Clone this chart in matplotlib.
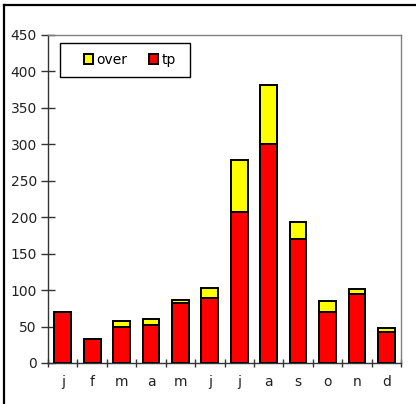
import matplotlib
matplotlib.use("Agg")
import matplotlib.pyplot as plt
from matplotlib.lines import Line2D
from matplotlib.patches import Rectangle
import numpy as np

months = ["j", "f", "m", "a", "m", "j", "j", "a", "s", "o", "n", "d"]
tp = [70, 33, 50, 52, 82, 89, 207, 300, 170, 70, 94, 43]
over = [0, 0, 7, 8, 5, 14, 71, 82, 24, 15, 7, 5]
yticks = [0, 50, 100, 150, 200, 250, 300, 350, 400, 450]

plt.rcParams['font.family'] = ['DejaVu Sans']
fig = plt.figure(figsize=(4.16, 4.04), dpi=100)
ax = fig.add_axes([0.1154, 0.1015, 0.8486, 0.812])

x = np.arange(len(months))
w = 0.57
ax.bar(x, tp, width=w, color='#ff0000', edgecolor='black', linewidth=1.4, label='tp', zorder=3)
ax.bar(x, over, width=w, bottom=tp, color='#ffff00', edgecolor='black', linewidth=1.4, label='over', zorder=3)

ax.set_xlim(-0.5, 11.5)
ax.set_ylim(0, 450)
ax.set_yticks(yticks)
ax.set_yticklabels([str(v) for v in yticks])
ax.set_xticks(x)
ax.set_xticklabels(months)
ax.set_xticks(np.arange(-0.5, 12, 1), minor=True)
ax.tick_params(axis='x', which='major', length=0, pad=9, labelsize=10, colors='#222222')
ax.tick_params(axis='x', which='minor', length=6, direction='inout', width=1, color='#333333')
ax.tick_params(axis='y', which='major', length=10, direction='inout', width=1, pad=3, labelsize=10, colors='#222222', color='#333333')

ax.spines['left'].set_color('#333333')
ax.spines['bottom'].set_color('#333333')
ax.spines['top'].set_color('#808080')
ax.spines['right'].set_color('#808080')
for s in ax.spines.values():
    s.set_linewidth(1.0)

# legend frame drawn separately
ax.add_patch(Rectangle((0.034, 0.872), 0.368, 0.104, transform=ax.transAxes,
                       facecolor='white', edgecolor='black', linewidth=1.0, zorder=4))
handles, labels = ax.get_legend_handles_labels()
leg = ax.legend(handles[::-1], labels[::-1], ncol=2, loc='center left',
                bbox_to_anchor=(0.102, 0.924), frameon=False,
                handlelength=0.65, handleheight=0.65,
                handletextpad=0.25, columnspacing=1.55, fontsize=10,
                borderpad=0, borderaxespad=0)
leg.set_zorder(5)

# figure border lines (top and left)
fig.add_artist(Line2D([0.0096, 1.0], [0.9876, 0.9876], transform=fig.transFigure, color='black', linewidth=1.6))
fig.add_artist(Line2D([0.0096, 0.0096], [0.0, 0.9876], transform=fig.transFigure, color='black', linewidth=1.6))

fig.savefig('out.png', dpi=100)
